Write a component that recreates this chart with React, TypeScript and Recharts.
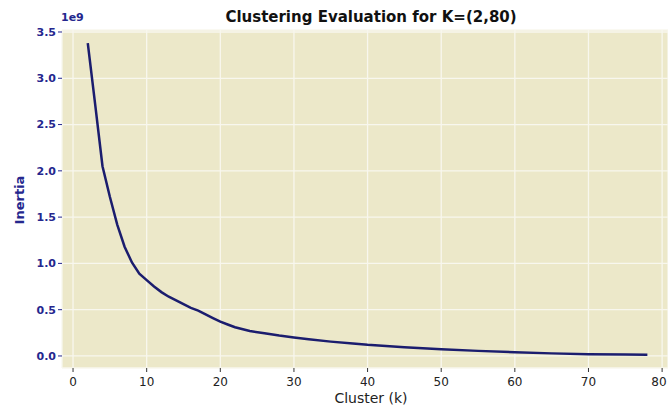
import { LineChart, Line, XAxis, YAxis, CartesianGrid } from 'recharts';

// cluster counts and inertia values (in units of 1e9)
const clusters = [2, 3, 4, 5, 6, 7, 8, 9, 10, 11, 12, 13, 14, 15, 16, 17, 18, 19, 20, 21, 22, 24, 26, 28, 30, 32, 35, 38, 40, 45, 50, 55, 60, 65, 70, 75, 78];
const inertia = [3.38, 2.72, 2.05, 1.72, 1.42, 1.18, 1.01, 0.89, 0.82, 0.75, 0.69, 0.64, 0.6, 0.56, 0.52, 0.49, 0.45, 0.41, 0.37, 0.34, 0.31, 0.27, 0.245, 0.22, 0.2, 0.18, 0.155, 0.135, 0.12, 0.095, 0.072, 0.055, 0.04, 0.028, 0.018, 0.015, 0.014];
const xTicks = [0, 10, 20, 30, 40, 50, 60, 70, 80];
const yTicks = [0, 0.5, 1.0, 1.5, 2.0, 2.5, 3.0, 3.5];

const data = clusters.map((k, i) => ({ k, inertia: inertia[i] * 1e9 }));

const font = '"DejaVu Sans", sans-serif';
const blue = '#25278e';

// x tick label, kept inside the 668px window (the last one sits at the very edge)
function XTick({ x, y, payload }: any) {
    const cx = Math.min(x, 667 - 8);
    return (
        <text x={cx} y={y + 12} textAnchor="middle" fill="#222" fontSize={12} fontFamily={font}>
            {payload.value}
        </text>
    );
}

export default function App() {
    return (
        <div style={{ position: 'absolute', left: 0, top: 0, width: 668, height: 408, background: '#fff', fontFamily: font }}>
            {/* title */}
            <div style={{ position: 'absolute', left: 62, width: 618, top: 8, textAlign: 'center', fontSize: 15, fontWeight: 'bold', color: '#111' }}>
                Clustering Evaluation for K=(2,80)
            </div>
            {/* offset label */}
            <div style={{ position: 'absolute', left: 61, top: 11, fontSize: 11, fontWeight: 'bold', color: blue }}>1e9</div>
            {/* y label */}
            <div style={{ position: 'absolute', left: 19, top: 200, transform: 'translate(-50%, -50%) rotate(-90deg)', fontSize: 13, fontWeight: 'bold', color: blue, whiteSpace: 'nowrap' }}>
                Inertia
            </div>
            {/* x label */}
            <div style={{ position: 'absolute', left: 62, width: 618, top: 390, textAlign: 'center', fontSize: 14, color: '#222' }}>
                Cluster (k)
            </div>

            <LineChart width={668} height={408} data={data} margin={{ top: 30, right: 0, bottom: 0, left: 0 }}>
                <CartesianGrid fill="#ece8c9" stroke="#f8f7ee" strokeWidth={1.3} />
                <XAxis
                    dataKey="k"
                    type="number"
                    domain={[-1.5, 80.8]}
                    ticks={xTicks}
                    allowDataOverflow
                    height={40}
                    axisLine={false}
                    tickSize={4}
                    tickLine={{ stroke: '#333' }}
                    tick={<XTick />}
                />
                <YAxis
                    type="number"
                    domain={[-0.13e9, 3.5216e9]}
                    ticks={yTicks.map((v) => v * 1e9)}
                    allowDataOverflow
                    width={62}
                    axisLine={false}
                    tickSize={4}
                    tickLine={{ stroke: blue }}
                    tickFormatter={(v: number) => (v / 1e9).toFixed(1)}
                    tick={{ fill: blue, fontSize: 11, fontFamily: font, fontWeight: 'bold' }}
                />
                <Line type="linear" dataKey="inertia" stroke="#1b1d6e" strokeWidth={2.5} dot={false} isAnimationActive={false} />
            </LineChart>
        </div>
    );
}
